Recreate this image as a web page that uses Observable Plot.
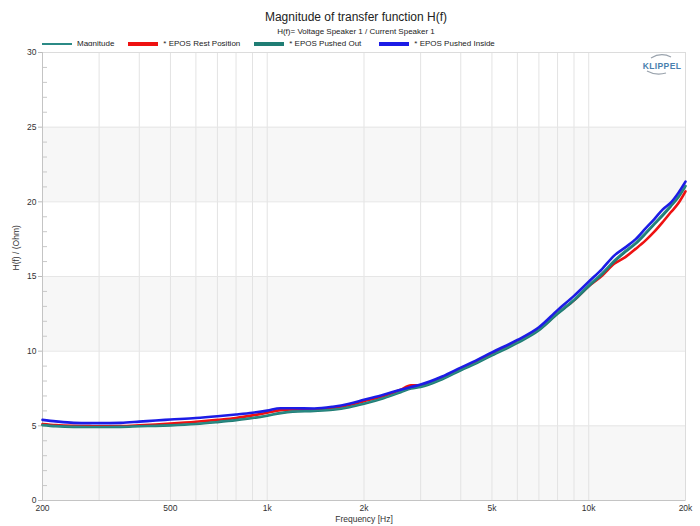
<!DOCTYPE html>
<html>
<head>
<meta charset="utf-8">
<script src="https://cdn.jsdelivr.net/npm/d3@7"></script>
<script src="https://cdn.jsdelivr.net/npm/@observablehq/plot@0.6"></script>
<style>
  html, body { margin: 0; padding: 0; background: #fff; }
  #wrap { position: relative; width: 700px; height: 526px; background: #fff; font-family: "Liberation Sans", Arial, sans-serif; color: #222; overflow: hidden; }
  #title { position: absolute; left: 0; width: 712px; top: 10px; text-align: center; font-size: 12px; line-height: 14px; }
  #subtitle { position: absolute; left: 0; width: 712px; top: 27px; text-align: center; font-size: 8px; line-height: 10px; }
  #legend { position: absolute; left: 42px; top: 39px; display: flex; align-items: center; font-size: 8px; line-height: 10px; }
  .item { display: flex; align-items: center; margin-right: 14px; }
  .item:nth-child(3) { margin-right: 18px; }
  .sw { width: 30px; margin-right: 5px; }
  #chart { position: absolute; left: 0; top: 46px; }
  #logo { position: absolute; left: 638px; top: 53px; width: 46px; height: 24px; }
</style>
</head>
<body>
<div id="wrap">
  <div id="title">Magnitude of transfer function H(f)</div>
  <div id="subtitle">H(f)= Voltage Speaker 1 / Current Speaker 1</div>
  <div id="legend"></div>
  <div id="chart"></div>
  <svg id="logo" width="46" height="24" viewBox="0 0 46 24">
    <path d="M13,5 Q23,-1 33,4" fill="none" stroke="#9aa3ad" stroke-width="1.2"/>
    <text x="24" y="16" text-anchor="middle" font-size="8.5" font-weight="bold" fill="#4a7fae" font-family="Liberation Sans, Arial, sans-serif" letter-spacing="0.4">KLIPPEL</text>
    <path d="M9,18 Q18,23 28,20" fill="none" stroke="#9aa3ad" stroke-width="1.2"/>
  </svg>
</div>
<script>
// ---------- data ----------
const freq = [200, 220, 250, 280, 300, 350, 400, 450, 500, 600, 700, 800, 900,
  1000, 1100, 1200, 1400, 1600, 1800, 2000, 2300, 2600, 2800, 3000, 3500, 4000, 4500,
  5000, 6000, 7000, 8000, 9000, 10000, 11000, 12000, 13000, 14000, 15000, 16000,
  17000, 18000, 19000, 20000];

const magnitude = [5.06, 4.99, 4.94, 4.93, 4.93, 4.94, 4.98, 5.01, 5.05, 5.14, 5.27, 5.40, 5.54,
  5.70, 5.86, 5.96, 6.01, 6.10, 6.27, 6.50, 6.87, 7.27, 7.52, 7.62, 8.15, 8.75, 9.25,
  9.75, 10.60, 11.45, 12.58, 13.50, 14.45, 15.25, 16.10, 16.75, 17.30, 17.95, 18.60,
  19.20, 19.80, 20.40, 21.10];

const restPosition = [5.12, 5.05, 5.00, 4.98, 4.97, 4.98, 5.03, 5.09, 5.15, 5.27, 5.40, 5.53, 5.70,
  5.88, 6.05, 6.10, 6.10, 6.20, 6.40, 6.65, 7.00, 7.42, 7.72, 7.72, 8.20, 8.80, 9.30,
  9.82, 10.65, 11.45, 12.55, 13.40, 14.35, 15.05, 15.85, 16.30, 16.85, 17.40, 18.00,
  18.65, 19.30, 19.90, 20.70];

const pushedOut = [5.05, 4.98, 4.93, 4.92, 4.92, 4.93, 4.97, 5.00, 5.03, 5.12, 5.25, 5.38, 5.52,
  5.68, 5.85, 5.95, 6.00, 6.08, 6.25, 6.48, 6.85, 7.25, 7.50, 7.60, 8.12, 8.72, 9.22,
  9.72, 10.55, 11.40, 12.50, 13.40, 14.35, 15.15, 16.00, 16.65, 17.20, 17.85, 18.50,
  19.10, 19.70, 20.30, 21.05];

const pushedInside = [5.40, 5.30, 5.20, 5.18, 5.18, 5.20, 5.28, 5.36, 5.42, 5.52, 5.64, 5.76, 5.88,
  6.02, 6.18, 6.18, 6.16, 6.28, 6.48, 6.74, 7.08, 7.42, 7.60, 7.76, 8.30, 8.90, 9.42,
  9.92, 10.75, 11.60, 12.75, 13.70, 14.65, 15.50, 16.40, 16.95, 17.50, 18.20, 18.85,
  19.50, 19.95, 20.60, 21.35];

const seriesNames = ["Magnitude", "* EPOS Rest Position", "* EPOS Pushed Out", "* EPOS Pushed Inside"];
const seriesColors = ["#2b8a86", "#ee1111", "#1f7d74", "#1c1ce6"];
const seriesValues = [magnitude, restPosition, pushedOut, pushedInside];

const xTickValues = [200, 500, 1000, 2000, 5000, 10000, 20000];
const xTickLabels = ["200", "500", "1k", "2k", "5k", "10k", "20k"];
const xGrid = [300, 400, 500, 600, 700, 800, 900, 1000, 2000, 3000, 4000, 5000, 6000, 7000, 8000, 9000, 10000, 20000];
const yTickValues = [0, 5, 10, 15, 20, 25, 30];
const yMinor = d3.range(1, 30).filter(v => v % 5 !== 0);
const yGrid = [5, 10, 15, 20, 25];
const bandLo = [0, 10, 20];
const bandHi = [5, 15, 25];

// ---------- legend ----------
const legend = document.getElementById("legend");
seriesNames.forEach((name, i) => {
  const item = document.createElement("div");
  item.className = "item";
  const sw = document.createElement("div");
  sw.className = "sw";
  sw.style.background = seriesColors[i];
  sw.style.height = i === 0 ? "2px" : "5px";
  const t = document.createElement("span");
  t.textContent = name;
  item.appendChild(sw);
  item.appendChild(t);
  legend.appendChild(item);
});

// ---------- table ----------
const rows = [];
seriesNames.forEach((name, i) => {
  freq.forEach((f, j) => rows.push({series: name, f, v: seriesValues[i][j], order: i}));
});
const bands = bandLo.map((lo, i) => ({lo, hi: bandHi[i]}));
const xTicks = xTickValues.map((v, i) => ({v, label: xTickLabels[i]}));

const W = 700, H = 480, ML = 42, MR = 15, MT = 6, MB = 26;
const frameW = W - ML - MR;

const chart = Plot.plot({
  width: W,
  height: H,
  marginLeft: ML,
  marginRight: MR,
  marginTop: MT,
  marginBottom: MB,
  style: {fontFamily: "Liberation Sans, Arial, sans-serif", fontSize: "8.5px", color: "#333", background: "#fff"},
  x: {type: "log", domain: [200, 20000], axis: null},
  y: {domain: [0, 30]},
  marks: [
    Plot.rect(bands, {y1: "lo", y2: "hi", fill: "#f7f7f7"}),
    Plot.ruleX(xGrid, {stroke: "#e3e3e3", strokeWidth: 1}),
    Plot.ruleY(yGrid, {stroke: "#e6e6e6", strokeWidth: 1}),
    Plot.frame({stroke: "#dcdcdc"}),
    Plot.ruleY(yMinor, {stroke: "#c8c8c8", insetRight: frameW - 5}),
    Plot.ruleY([0], {stroke: "#c4c4c4"}),
    Plot.ruleX([200], {stroke: "#c4c4c4"}),
    Plot.axisY(yTickValues, {tickSize: 4, tickPadding: 2, stroke: "#bbb", fill: "#333", label: null}),
    Plot.text(xTicks, {x: "v", text: "label", frameAnchor: "bottom", dy: 10, fill: "#333", fontSize: 8.5}),
    Plot.text(["Frequency [Hz]"], {frameAnchor: "bottom", dy: 21, fill: "#333", fontSize: 8.5}),
    Plot.text(["H(f) / (Ohm)"], {frameAnchor: "left", dx: -26, dy: -6, rotate: -90, fill: "#333", fontSize: 8.5}),
    Plot.line(rows.filter(d => d.order === 1), {x: "f", y: "v", stroke: seriesColors[1], strokeWidth: 2.6, curve: "monotone-x"}),
    Plot.line(rows.filter(d => d.order === 2), {x: "f", y: "v", stroke: seriesColors[2], strokeWidth: 2.6, curve: "monotone-x"}),
    Plot.line(rows.filter(d => d.order === 0), {x: "f", y: "v", stroke: seriesColors[0], strokeWidth: 1.4, curve: "monotone-x"}),
    Plot.line(rows.filter(d => d.order === 3), {x: "f", y: "v", stroke: seriesColors[3], strokeWidth: 2.6, curve: "monotone-x"})
  ]
});
document.getElementById("chart").appendChild(chart);
</script>
</body>
</html>
